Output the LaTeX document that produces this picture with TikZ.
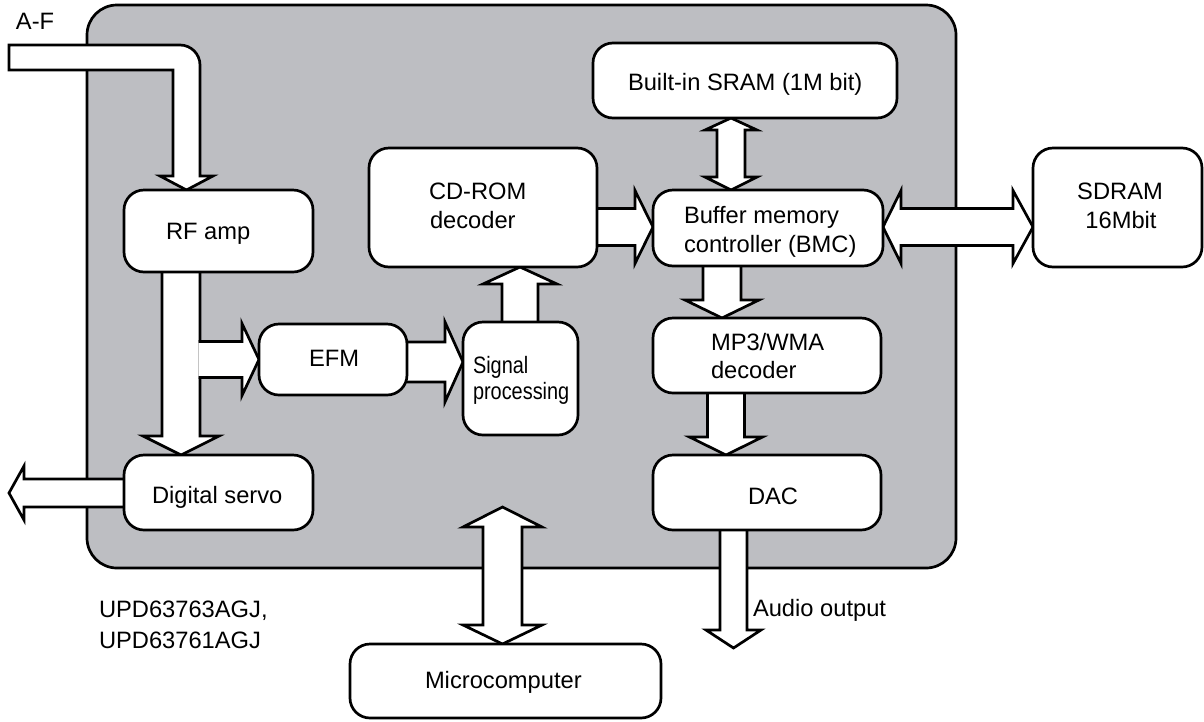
\documentclass[tikz,border=0pt]{standalone}
\usepackage{fontspec}
\setmainfont{Liberation Sans}
\newfontfamily\narrowfont[FakeStretch=0.84]{Liberation Sans}
\usetikzlibrary{calc}
\definecolor{chipgray}{RGB}{189,190,194}
\pgfdeclarelayer{chiplayer}
\pgfdeclarelayer{arrowlayer}
\pgfsetlayers{chiplayer,arrowlayer,main}
\tikzset{
  blk/.style={fill=white, draw=black, line width=2.7pt, line join=miter},
  box/.style={draw=black, fill=white, line width=2.7pt, rounded corners=20pt,
    inner sep=0pt, outer sep=0pt, anchor=north west},
  chip/.style={draw=black, fill=chipgray, line width=2.7pt, rounded corners=30pt,
    inner sep=0pt, outer sep=0pt, anchor=north west},
  txt/.style={inner sep=0pt, outer sep=0pt, anchor=base west,
    font=\fontsize{23.7}{28}\selectfont},
  ntxt/.style={inner sep=0pt, outer sep=0pt, anchor=base west,
    font=\narrowfont\fontsize{23.7}{28}\selectfont},
}
% box: name, x1, y1, x2, y2, style
\newcommand\boxat[6]{%
  \node[#6, minimum width={(#4-#2)*1pt}, minimum height={(#5-#3)*1pt}] (#1) at (#2,#3) {};}
% single block arrow: start, tip, half shaft, half head, head length
\newcommand\blkarrow[5]{%
  \path (#1) coordinate (ba-s) (#2) coordinate (ba-t);
  \path ($(ba-t)!#5!(ba-s)$) coordinate (ba-h);
  \filldraw[blk] ($(ba-s)!#3!90:(ba-t)$) -- ($(ba-h)!#3!90:(ba-t)$) -- ($(ba-h)!#4!90:(ba-t)$)
    -- (ba-t) -- ($(ba-h)!#4!-90:(ba-t)$) -- ($(ba-h)!#3!-90:(ba-t)$) -- ($(ba-s)!#3!-90:(ba-t)$);}
% double block arrow: A, B, half shaft, half head, head length at A, head length at B
\newcommand\dblarrow[6]{%
  \path (#1) coordinate (da-a) (#2) coordinate (da-b);
  \path ($(da-a)!#5!(da-b)$) coordinate (da-h1) ($(da-b)!#6!(da-a)$) coordinate (da-h2);
  \filldraw[blk] (da-a) -- ($(da-h1)!#4!90:(da-b)$) -- ($(da-h1)!#3!90:(da-b)$)
    -- ($(da-h2)!#3!90:(da-b)$) -- ($(da-h2)!#4!90:(da-b)$) -- (da-b)
    -- ($(da-h2)!#4!-90:(da-b)$) -- ($(da-h2)!#3!-90:(da-b)$)
    -- ($(da-h1)!#3!-90:(da-b)$) -- ($(da-h1)!#4!-90:(da-b)$) -- cycle;}
\begin{document}
\begin{tikzpicture}[x=1pt,y=-1pt]
\useasboundingbox (0,0) rectangle (1204,721);
% chip outline
\begin{pgfonlayer}{chiplayer}
\boxat{chipbox}{87}{5}{956}{568}{chip}
\end{pgfonlayer}
% blocks
\boxat{rf}{124}{190}{313}{272}{box}
\boxat{cd}{369}{148}{597}{267}{box}
\boxat{sram}{593}{43}{897}{118}{box}
\boxat{bmc}{653}{190}{883}{266}{box}
\boxat{sdram}{1033}{148}{1202}{267}{box}
\boxat{efm}{259}{324}{407}{395}{box}
\boxat{sig}{463}{322}{578}{435}{box}
\boxat{mp3}{653}{318}{881}{393}{box}
\boxat{ds}{124}{455}{313}{530}{box}
\boxat{dac}{653}{455}{881}{530}{box}
\boxat{micro}{350}{644}{661}{718}{box}
\coordinate (audioend) at (733.5,648);
\coordinate (microend) at (502.5,507);
\coordinate (servoend) at (9,493);
\begin{pgfonlayer}{arrowlayer}
% A-F input arrow
\filldraw[blk] (9,45) -- (180,45) .. controls (191,45) and (200,54) .. (200,65) -- (200,176)
  -- (213,176) -- (rf.north -| 186.5,0) -- (160,176) -- (173,176) -- (173,70) -- (9,70) -- cycle;
% arrows
\blkarrow{rf.south -| 181,0}{ds.north -| 181,0}{19pt}{38pt}{19pt}
\blkarrow{efm.west -| 198.6,0}{efm.west}{18pt}{36pt}{17pt}
\blkarrow{efm.east |- 0,362}{sig.west |- 0,362}{20pt}{40pt}{18pt}
\blkarrow{sig.north -| 520,0}{cd.south -| 520,0}{18pt}{37pt}{17pt}
\blkarrow{cd.east |- 0,227}{bmc.west |- 0,227}{18.5pt}{36.5pt}{18pt}
\dblarrow{sram.south -| 731,0}{bmc.north -| 731,0}{14pt}{26pt}{12pt}{13pt}
\dblarrow{bmc.east |- 0,227}{sdram.west |- 0,227}{18.5pt}{36.5pt}{18pt}{20pt}
\blkarrow{bmc.south -| 722,0}{mp3.north -| 722,0}{19pt}{37pt}{18pt}
\blkarrow{mp3.south -| 726,0}{dac.north -| 726,0}{18.5pt}{36.5pt}{18pt}
\blkarrow{dac.south -| 733.5,0}{audioend}{13.5pt}{27.5pt}{18pt}
\dblarrow{microend}{micro.north -| 502.5,0}{19.5pt}{39.5pt}{20pt}{19pt}
\blkarrow{ds.west |- 0,493}{servoend}{14pt}{27pt}{15pt}
\end{pgfonlayer}
% texts
\node[txt] (taf) at (16,29) {A-F};
\node[txt] (trf) at (166,239) {RF amp};
\node[txt] (tcd1) at (429,199) {CD-ROM};
\node[txt] (tcd2) at (430,228) {decoder};
\node[txt] (tsram) at (628,90) {Built-in SRAM (1M bit)};
\node[txt] (tbmc1) at (684,223) {Buffer memory};
\node[txt] (tbmc2) at (684,252) {controller (BMC)};
\node[txt, anchor=base] (tsd1) at (1120,199) {SDRAM};
\node[txt, anchor=base] (tsd2) at (1121,228) {16Mbit};
\node[txt] (tefm) at (309,366) {EFM};
\node[ntxt] (tsig1) at (473,373) {Signal};
\node[ntxt] (tsig2) at (473,399) {processing};
\node[txt] (tmp1) at (711,350) {MP3/WMA};
\node[txt] (tmp2) at (711,378) {decoder};
\node[txt] (tds) at (152,503) {Digital servo};
\node[txt] (tdac) at (748,504) {DAC};
\node[txt] (tupd1) at (99,617) {UPD63763AGJ,};
\node[txt] (tupd2) at (99,648) {UPD63761AGJ};
\node[txt] (taudio) at (753,616) {Audio output};
\node[txt] (tmicro) at (425,688) {Microcomputer};
\end{tikzpicture}
\end{document}
